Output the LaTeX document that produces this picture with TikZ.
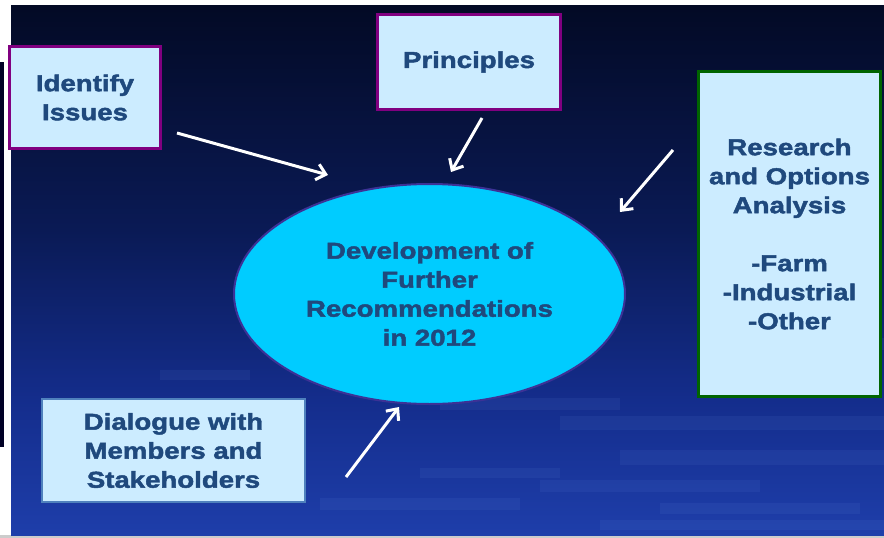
\documentclass[tikz,border=0pt]{standalone}
\usepackage{fontspec}
\usetikzlibrary{shapes.geometric,arrows.meta}
\newfontfamily\lbl{Liberation Sans}[UprightFont=*-Bold,FakeStretch=1.2,FakeBold=2]
\definecolor{txtblue}{RGB}{31,73,125}
\definecolor{boxfill}{RGB}{204,236,255}
\definecolor{purpleb}{RGB}{128,0,128}
\definecolor{greenb}{RGB}{0,100,0}
\definecolor{steelb}{RGB}{79,129,189}
\definecolor{ellfill}{RGB}{0,204,255}
\definecolor{elldraw}{RGB}{60,50,150}
\definecolor{bgA}{RGB}{3,10,37}
\definecolor{bgB}{RGB}{10,26,85}
\definecolor{bgC}{RGB}{20,45,140}
\definecolor{bgD}{RGB}{30,62,170}
\definecolor{streak}{RGB}{110,150,230}
\tikzset{
  lbltext/.style={font=\lbl\fontsize{23}{29}\selectfont, text=txtblue, align=center},
  infobox/.style={lbltext, rectangle, fill=boxfill, line width=3pt, inner sep=0pt},
  flowarrow/.style={draw=white, line width=3pt, -{Straight Barb[length=9pt,width=16pt,line width=3pt]}},
}
\begin{document}
\begin{tikzpicture}[x=1pt,y=-1pt]
\useasboundingbox (0,0) rectangle (884,538);
\fill[white] (0,0) rectangle (884,538);
\fill[black!85!blue] (0,62) rectangle (4,447);
\fill[black!20] (0,535) rectangle (884,538);
% background gradient
\shade[top color=bgA, bottom color=bgB] (11,5) rectangle (884,230);
\shade[top color=bgB, bottom color=bgC] (11,229.5) rectangle (884,400);
\shade[top color=bgC, bottom color=bgD] (11,399.5) rectangle (884,535);
% streaks
\begin{scope}[opacity=0.09]
\fill[streak] (560,416) rectangle (884,430);
\fill[streak] (620,450) rectangle (884,465);
\fill[streak] (540,480) rectangle (760,492);
\fill[streak] (660,503) rectangle (860,514);
\fill[streak] (440,398) rectangle (620,410);
\fill[streak] (160,370) rectangle (250,380);
\fill[streak] (320,498) rectangle (520,510);
\fill[streak] (700,338) rectangle (884,350);
\fill[streak] (420,468) rectangle (560,478);
\fill[streak] (600,520) rectangle (884,530);
\end{scope}
% nodes
\node[infobox, draw=purpleb, minimum width=151pt, minimum height=102pt] (ident) at (85,97.5) {Identify\\Issues};
\node[infobox, draw=purpleb, minimum width=183pt, minimum height=95pt] (princ) at (469,62) {Principles};
\node[infobox, draw=greenb, minimum width=182pt, minimum height=325pt] (research) at (789.5,234) {Research\\and Options\\Analysis\\[29pt]-Farm\\-Industrial\\-Other};
\node[infobox, draw=steelb, line width=2pt, minimum width=263pt, minimum height=103pt] (dialog) at (173.5,450.5) {Dialogue with\\Members and\\Stakeholders};
\node[lbltext, ellipse, fill=ellfill, draw=elldraw, line width=2pt, inner sep=0pt, minimum width=391pt, minimum height=220pt] (dev) at (429.5,294) {Development of\\Further\\Recommendations\\in 2012};
% arrow ends
\coordinate (a1s) at (177,133); \coordinate (a1e) at (328,175);
\coordinate (a2s) at (482,118); \coordinate (a2e) at (451,172);
\coordinate (a3s) at (673,150); \coordinate (a3e) at (620,212);
\coordinate (a4s) at (346,477); \coordinate (a4e) at (399,407);
\draw[flowarrow] (a1s) -- (a1e);
\draw[flowarrow] (a2s) -- (a2e);
\draw[flowarrow] (a3s) -- (a3e);
\draw[flowarrow] (a4s) -- (a4e);
\end{tikzpicture}
\end{document}
